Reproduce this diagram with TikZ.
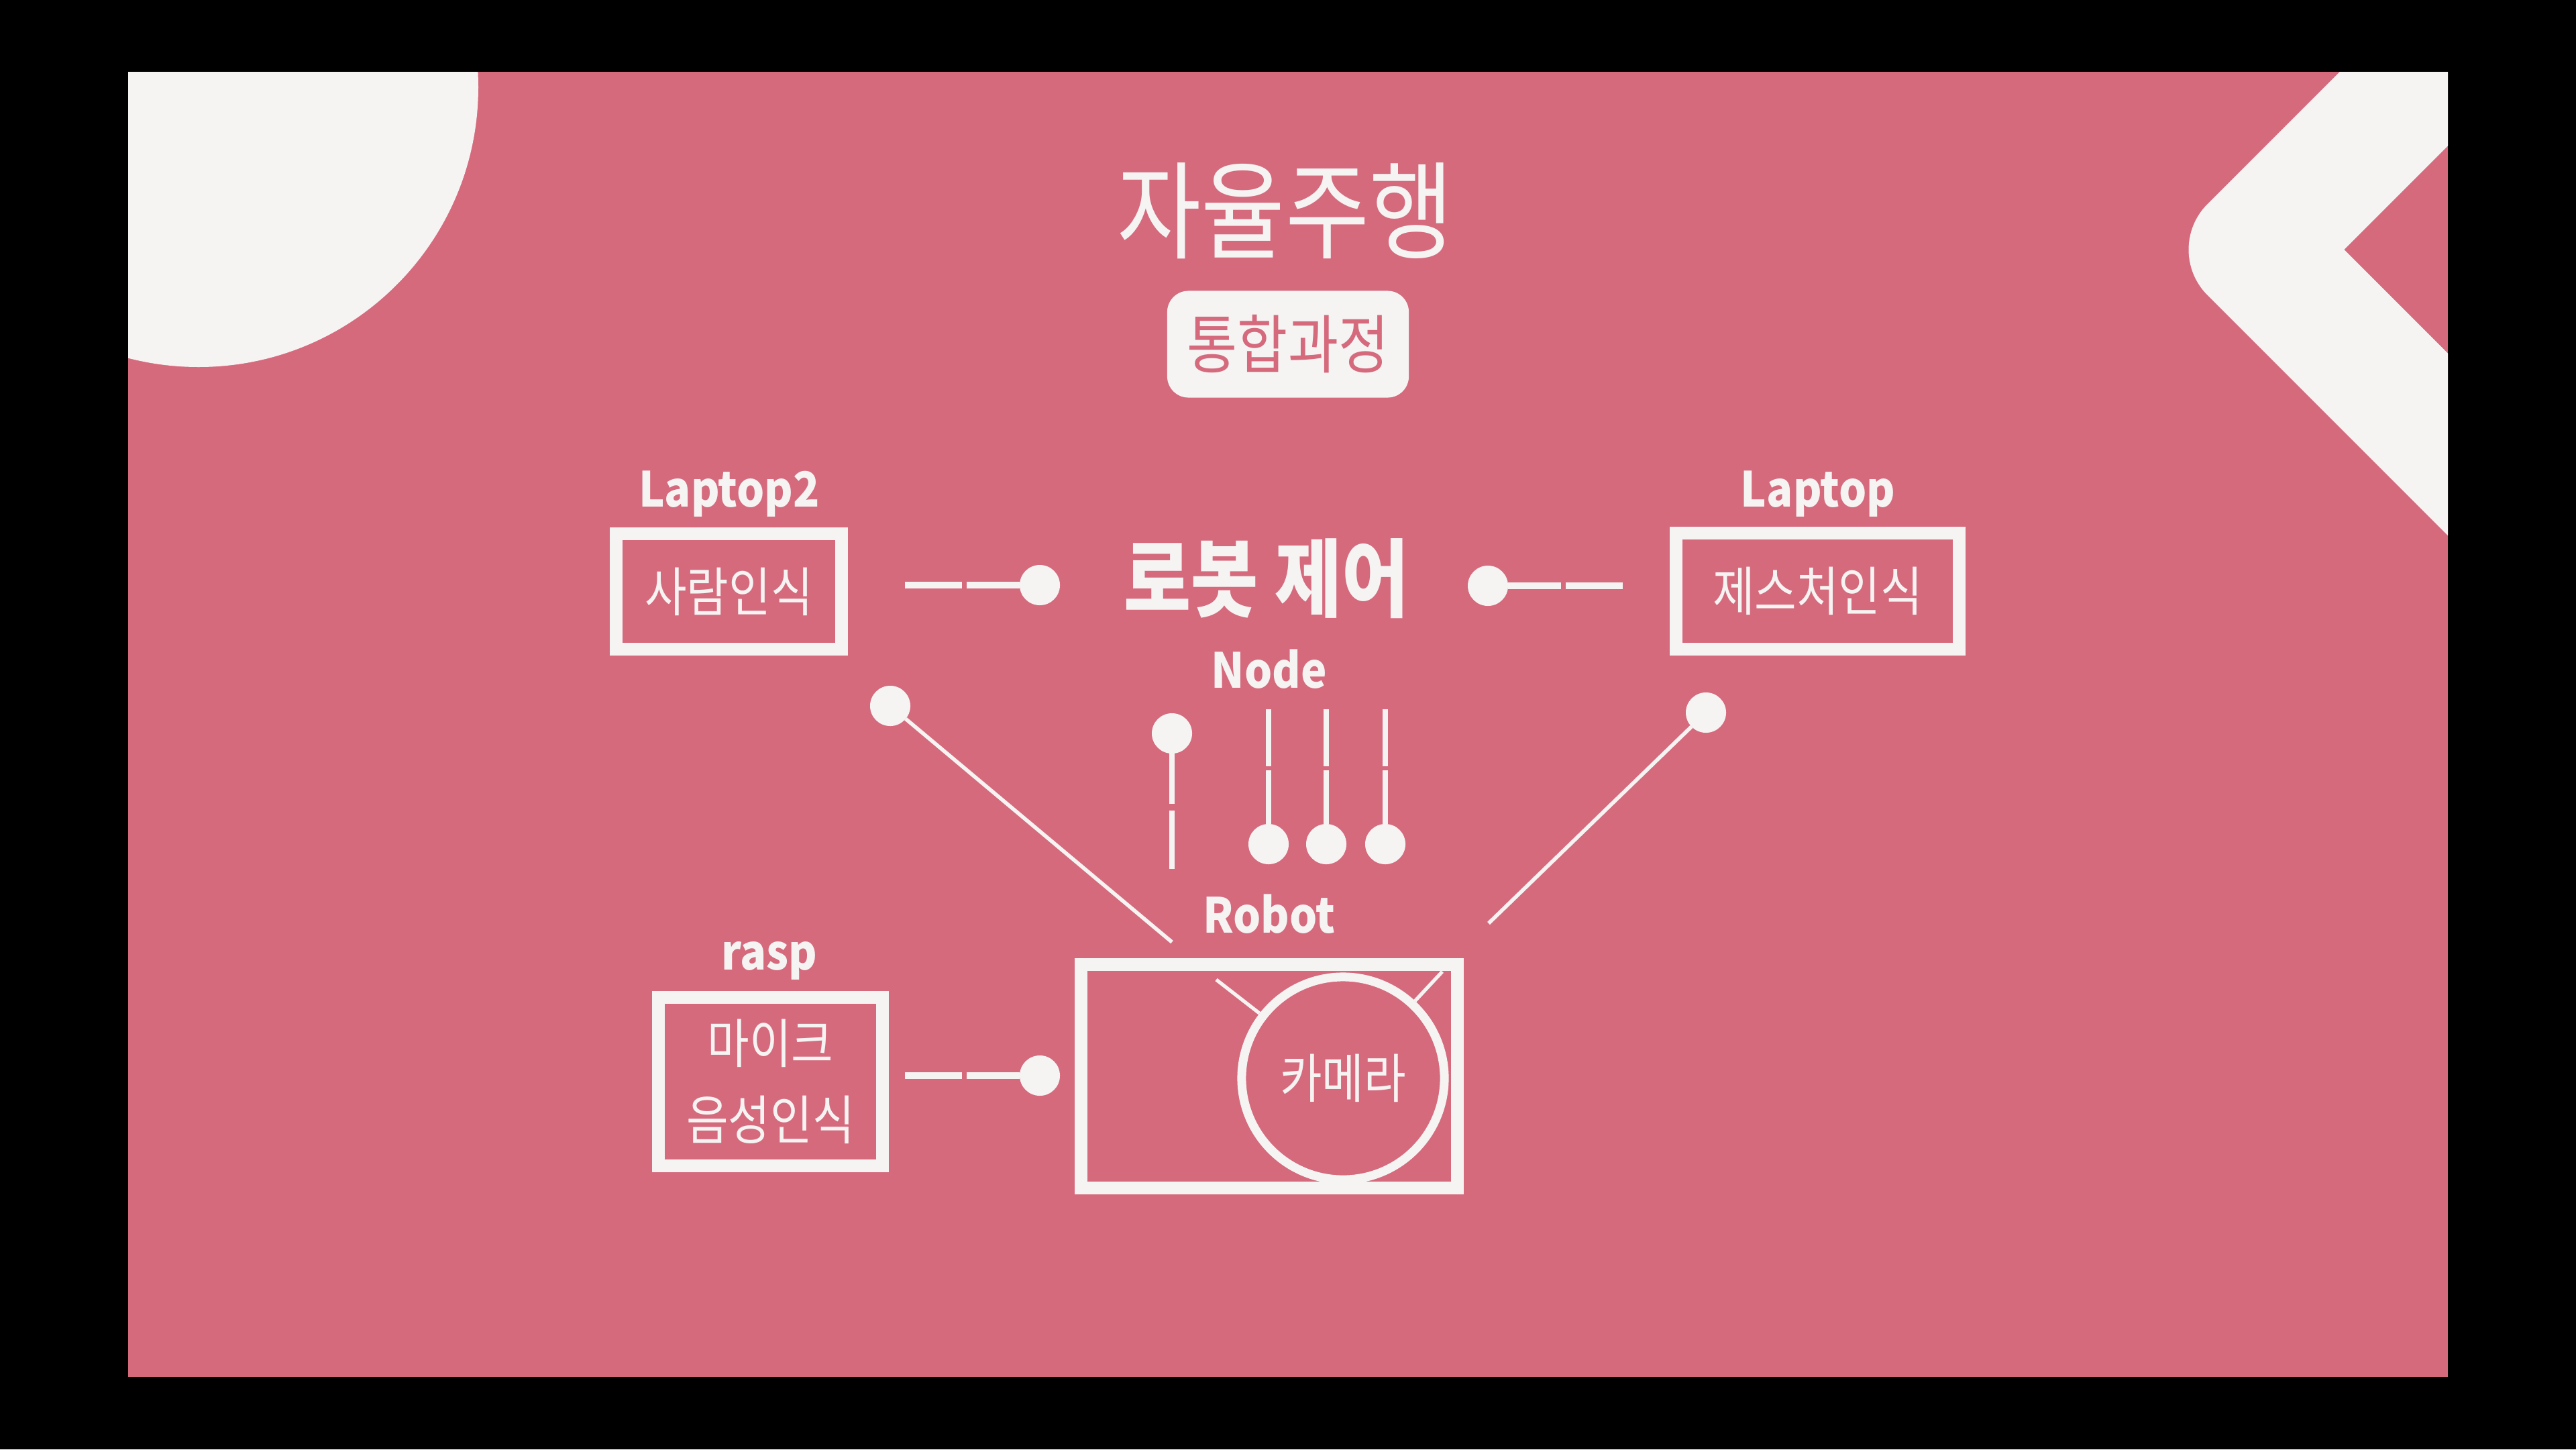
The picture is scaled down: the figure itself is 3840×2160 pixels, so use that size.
\documentclass[tikz,border=0pt]{standalone}
\usepackage{fontspec}
\newfontfamily\kr[FakeStretch=0.86]{Noto Sans CJK KR}
\newfontfamily\lat[FakeStretch=0.9]{Noto Sans CJK KR}
\definecolor{slidepink}{HTML}{D56A7D}
\definecolor{paper}{HTML}{F6F3F3}
\begin{document}
\begin{tikzpicture}[x=0.01cm,y=-0.01cm,
  box/.style={draw=paper, line width=5.4pt, inner sep=0pt},
  lbl/.style={text=paper, font=\lat\bfseries\fontsize{20.5}{24}\selectfont, anchor=base, inner sep=0pt},
  ktxt/.style={text=paper, font=\kr\fontsize{22.5}{32.4}\selectfont, inner sep=0pt, align=center},
  dot/.style={circle, fill=paper, minimum size=0.6cm, inner sep=0pt, outer sep=0pt},
  conn/.style={draw=paper, line width=2.85pt, dash pattern=on 24.2pt off 2pt},
  pinline/.style={draw=paper, line width=2.3pt},
  diag/.style={draw=paper, line width=1.6pt},
  ant/.style={draw=paper, line width=1.5pt},
]
\useasboundingbox (0,0) rectangle (3840,2160);
\fill[black] (0,0) rectangle (3840,2160);
\fill[slidepink] (191,107) rectangle (3649,2052);
\begin{scope}
  \clip (191,107) rectangle (3649,2052);
  \fill[paper] (296,130) circle[radius=417];
  \draw[paper, line width=54.6pt, line join=round] (3858.5,-128) -- (3358.5,372) -- (3858.5,872);
\end{scope}

% title
\node[text=paper, font=\kr\fontsize{45}{54}\selectfont, inner sep=0pt] (title) at (1916,314) {자율주행};
\node[fill=paper, rounded corners=9pt, minimum width=3.6cm, minimum height=1.59cm, inner sep=0pt,
      text=slidepink, font=\kr\fontsize{27}{32}\selectfont] (sub) at (1920,513) {통합과정};

% central
\node[text=paper, font=\kr\bfseries\fontsize{36}{44}\selectfont, inner sep=0pt] (ctrl) at (1888,862) {로봇 제어};
\node[lbl] (nodelbl) at (1892,1025) {Node};
\node[lbl] (robotlbl) at (1892,1390) {Robot};

% boxes
\node[lbl] (lap2lbl) at (1087,755) {Laptop2};
\node[box, ktxt, minimum width=3.36cm, minimum height=1.72cm] (lap2box) at (1086.5,881.5) {사람인식};
\node[lbl] (laplbl) at (2710,755) {Laptop};
\node[box, ktxt, minimum width=4.22cm, minimum height=1.73cm] (lapbox) at (2709.5,881) {제스처인식};
\node[lbl] (rasplbl) at (1147,1445) {rasp};
\node[box, ktxt, minimum width=3.34cm, minimum height=2.51cm] (raspbox) at (1148.5,1612) {마이크\\음성인식};
\node[box, minimum width=5.61cm, minimum height=3.33cm] (robotbox) at (1892,1604) {};
\node[circle, draw=paper, line width=3.7pt, minimum size=3.02cm, ktxt] (cam) at (2002,1607) {카메라};

% dots
\node[dot] (d1) at (1550,872) {};
\node[dot] (d2) at (2218,873) {};
\node[dot] (d3) at (1550,1603) {};
\node[dot] (d4) at (1327,1052) {};
\node[dot] (d5) at (2543,1062) {};
\node[dot] (d6) at (1747,1093) {};
\node[dot] (d7) at (1891,1258) {};
\node[dot] (d8) at (1977,1258) {};
\node[dot] (d9) at (2065,1258) {};

% free ends
\coordinate (c1) at (1349,872);
\coordinate (c2) at (2419,873);
\coordinate (c3) at (1349,1603);
\coordinate (c4) at (1747,1404);
\coordinate (c5) at (2219,1376);
\coordinate (c6) at (1747,1295);
\coordinate (c7) at (1891,1057);
\coordinate (c8) at (1977,1057);
\coordinate (c9) at (2065,1057);
\coordinate (a1) at (1813,1460);
\coordinate (a2) at (2150,1448);

% connectors
\draw[conn] (c1) -- (d1);
\draw[conn] (c2) -- (d2);
\draw[conn] (c3) -- (d3);
\draw[diag] (d4) -- (c4);
\draw[diag] (d5) -- (c5);
\draw[pinline, dash pattern=on 24.8pt off 2.85pt] (c6) -- (d6);
\draw[pinline, dash pattern=on 24.2pt off 1.7pt] (c7) -- (d7);
\draw[pinline, dash pattern=on 24.2pt off 1.7pt] (c8) -- (d8);
\draw[pinline, dash pattern=on 24.2pt off 1.7pt] (c9) -- (d9);
\draw[ant] (a1) -- (cam);
\draw[ant] (a2) -- (cam);
\end{tikzpicture}
\end{document}
